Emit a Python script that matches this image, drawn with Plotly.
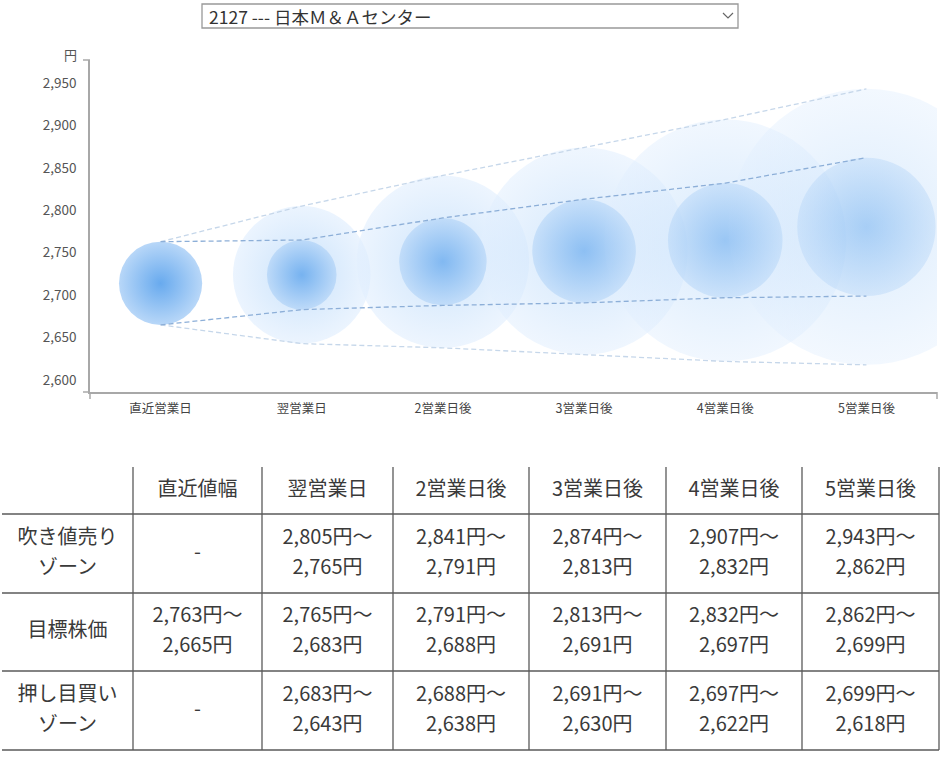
import plotly.graph_objects as go

# chart data (円)
days = ['直近営業日', '翌営業日', '2営業日後', '3営業日後', '4営業日後', '5営業日後']
sell_hi = [None, 2805, 2841, 2874, 2907, 2943]
sell_lo = [None, 2765, 2791, 2813, 2832, 2862]
target_hi = [2763, 2765, 2791, 2813, 2832, 2862]
target_lo = [2665, 2683, 2688, 2691, 2697, 2699]
buy_hi = [None, 2683, 2688, 2691, 2697, 2699]
buy_lo = [None, 2643, 2638, 2630, 2622, 2618]

# table labels
table_head = ['直近値幅', '翌営業日', '2営業日後', '3営業日後', '4営業日後', '5営業日後']
row_labels = [['吹き値売り', 'ゾーン'], ['目標株価'], ['押し目買い', 'ゾーン']]

y_ticks = [2600, 2650, 2700, 2750, 2800, 2850, 2900, 2950]
stock_name = '2127 --- 日本Ｍ＆Ａセンター'

W, H = 945, 759
FONT = 'Noto Sans CJK JP'
Y_MIN, Y_MAX = 2586, 2977
PLOT_TOP, PLOT_BOT = 60, 392
px_per_yen = (PLOT_BOT - PLOT_TOP) / (Y_MAX - Y_MIN)

fig = go.Figure()

# outer (zone) circles
ox = days[1:]
oy = [(h + l) / 2 for h, l in zip(sell_hi[1:], buy_lo[1:])]
osize = [(h - l) * px_per_yen for h, l in zip(sell_hi[1:], buy_lo[1:])]
fig.add_trace(go.Scatter(
    x=ox, y=oy, mode='markers', hoverinfo='skip',
    marker=dict(size=osize, sizemode='diameter', line=dict(width=0),
                color='rgba(226,239,254,0.8)',
                opacity=[0.85, 0.78, 0.7, 0.62, 0.55],
                gradient=dict(type='radial', color='rgba(190,220,250,1)'))))

# target circles
iy = [(h + l) / 2 for h, l in zip(target_hi, target_lo)]
isize = [(h - l) * px_per_yen for h, l in zip(target_hi, target_lo)]
fig.add_trace(go.Scatter(
    x=days, y=iy, mode='markers', hoverinfo='skip',
    marker=dict(size=isize, line=dict(width=0),
                color='rgba(184,215,248,1)',
                opacity=[1, 0.85, 0.75, 0.65, 0.55, 0.45],
                gradient=dict(type='radial', color='rgba(104,170,238,1)'))))

# dashed guide lines
outer_up = [target_hi[0]] + sell_hi[1:]
outer_dn = [target_lo[0]] + buy_lo[1:]
for vals, col in [(outer_up, '#c6d7ea'), (outer_dn, '#c6d7ea'),
                  (target_hi, '#8dafd8'), (target_lo, '#8dafd8')]:
    fig.add_trace(go.Scatter(x=days, y=vals, mode='lines', hoverinfo='skip',
                             line=dict(color=col, width=1.3, dash='5px,3px')))

# table (drawn on pixel-like axes x2/y2)
col_edges = [2, 133, 262, 393, 529, 666, 802, 939]
row_edges = [467, 514, 593, 671, 750]
col_mid = [(a + b) / 2 for a, b in zip(col_edges[:-1], col_edges[1:])]
row_mid = [(a + b) / 2 for a, b in zip(row_edges[:-1], row_edges[1:])]
gap = 15

tx, ty, tt = [], [], []
for c, h in enumerate(table_head):
    tx.append(col_mid[c + 1]); ty.append(row_mid[0]); tt.append(h)

zones = [(sell_hi, sell_lo), (target_hi, target_lo), (buy_hi, buy_lo)]
for r, (hi, lo) in enumerate(zones):
    ym = row_mid[r + 1]
    lab = row_labels[r]
    if len(lab) == 2:
        tx += [col_mid[0], col_mid[0]]; ty += [ym - gap, ym + gap]; tt += lab
    else:
        tx.append(col_mid[0]); ty.append(ym); tt.append(lab[0])
    for c in range(len(days)):
        if hi[c] is None:
            tx.append(col_mid[c + 1]); ty.append(ym); tt.append('-')
        else:
            tx += [col_mid[c + 1], col_mid[c + 1]]
            ty += [ym - gap, ym + gap]
            tt += [f'{hi[c]:,}円～', f'{lo[c]:,}円']

fig.add_trace(go.Scatter(x=tx, y=ty, text=tt, mode='text', xaxis='x2', yaxis='y2',
                         hoverinfo='skip', cliponaxis=False,
                         textfont=dict(family=FONT, size=20, color='#3a3a3a')))

shapes = []
for y in row_edges[1:]:
    shapes.append(dict(type='line', xref='x2', yref='y2', x0=col_edges[0], x1=col_edges[-1],
                       y0=y, y1=y, line=dict(color='#5a5a5a', width=1.3)))
for x in col_edges[1:]:
    shapes.append(dict(type='line', xref='x2', yref='y2', x0=x, x1=x,
                       y0=row_edges[0], y1=row_edges[-1], line=dict(color='#5a5a5a', width=1.3)))

# axis corner ticks
axc = '#a8a8a8'
shapes += [
    dict(type='line', xref='x2', yref='y2', x0=90, x1=90, y0=PLOT_BOT, y1=399, line=dict(color=axc, width=1.5)),
    dict(type='line', xref='x2', yref='y2', x0=83, x1=90, y0=PLOT_BOT, y1=PLOT_BOT, line=dict(color=axc, width=1.5)),
    dict(type='line', xref='x2', yref='y2', x0=83, x1=90, y0=PLOT_TOP, y1=PLOT_TOP, line=dict(color=axc, width=1.5)),
    dict(type='line', xref='x2', yref='y2', x0=937, x1=937, y0=PLOT_BOT, y1=399, line=dict(color=axc, width=1.5)),
]

# stock selector box
shapes += [
    dict(type='rect', xref='x2', yref='y2', x0=202, x1=738, y0=4, y1=28,
         line=dict(color='#999', width=1.3), fillcolor='white'),
    dict(type='path', xref='x2', yref='y2', path='M 723 13 L 728 18 L 733 13',
         line=dict(color='#666', width=1.2)),
]

fig.update_layout(
    width=W, height=H, margin=dict(l=0, r=0, t=0, b=0),
    paper_bgcolor='white', plot_bgcolor='rgba(0,0,0,0)',
    showlegend=False, shapes=shapes,
    font=dict(family=FONT, color='#555'),
    xaxis=dict(domain=[90 / W, 937 / W], range=[-0.5, 5.5], type='category',
               categoryorder='array', categoryarray=days,
               showgrid=False, zeroline=False, showline=True, linecolor=axc, linewidth=1.5,
               tickfont=dict(size=12.5, color='#444'), ticklabelstandoff=4),
    yaxis=dict(domain=[1 - PLOT_BOT / H, 1 - PLOT_TOP / H], range=[Y_MIN, Y_MAX],
               tickvals=y_ticks, tickformat=',', showgrid=False, zeroline=False,
               showline=True, linecolor=axc, linewidth=1.5,
               tickfont=dict(size=13.5, color='#555'), ticklabelstandoff=9),
    xaxis2=dict(domain=[0, 1], range=[0, W], visible=False, anchor='y2'),
    yaxis2=dict(domain=[0, 1], range=[H, 0], visible=False, anchor='x2'),
    annotations=[
        dict(text='円', xref='x2', yref='y2', x=70, y=54, showarrow=False,
             font=dict(size=13, color='#555')),
        dict(text=stock_name, xref='x2', yref='y2', x=207, y=16, xanchor='left',
             showarrow=False, font=dict(size=17.5, color='#333')),
    ],
)

# drop the page's default body margin so the figure sits at the window corner
fig.write_html('out.html', config={'displayModeBar': False},
               post_script="document.body.style.margin='0';")
